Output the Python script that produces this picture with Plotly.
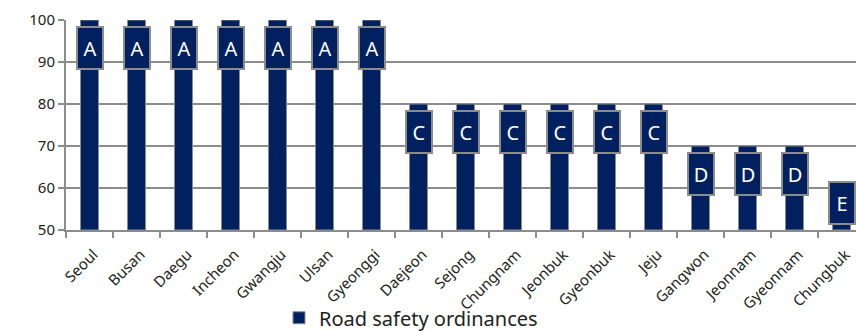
import plotly.graph_objects as go

regions = ["Seoul", "Busan", "Daegu", "Incheon", "Gwangju", "Ulsan", "Gyeonggi",
           "Daejeon", "Sejong", "Chungnam", "Jeonbuk", "Gyeonbuk", "Jeju",
           "Gangwon", "Jeonnam", "Gyeonnam", "Chungbuk"]
scores = [100, 100, 100, 100, 100, 100, 100,
          80, 80, 80, 80, 80, 80,
          70, 70, 70, 61]
grades = ["A", "A", "A", "A", "A", "A", "A",
          "C", "C", "C", "C", "C", "C",
          "D", "D", "D", "E"]

NAVY = "#002060"
GRAY = "#8c8c8c"

W, H = 856, 331
ML, MT, MB = 66, 20, 101
plot_w = W - ML
plot_h = H - MT - MB
ymin, ymax = 50, 100
px_per_unit = plot_h / (ymax - ymin)
cat_px = 47
x_hi = plot_w / cat_px - 0.5

fig = go.Figure()
fig.add_trace(go.Bar(
    x=regions, y=[s - ymin for s in scores], base=ymin,
    marker=dict(color=NAVY, line=dict(color=GRAY, width=1)),
    name="Road safety ordinances", showlegend=True,
    hoverinfo="skip",
))

box_h = 44
box_w = 28
for r, s, g in zip(regions, scores, grades):
    top = s - 6 / px_per_unit
    bottom = top - box_h / px_per_unit
    min_bottom = ymin + 5 / px_per_unit
    if bottom < min_bottom:
        shift = min_bottom - bottom
        top += shift
        bottom += shift
    fig.add_annotation(
        x=r, y=(top + bottom) / 2, xref="x", yref="y",
        text=g, showarrow=False,
        font=dict(family="Noto Sans", size=20, color="white"),
        bgcolor=NAVY, bordercolor=GRAY, borderwidth=2,
        width=box_w - 4, height=box_h - 4, borderpad=0,
        xanchor="center", yanchor="middle",
    )

fig.update_layout(
    width=W, height=H,
    margin=dict(l=ML, r=0, t=MT, b=MB, autoexpand=False),
    paper_bgcolor="white", plot_bgcolor="white",
    bargap=1 - 18 / cat_px,
    font=dict(family="Noto Sans", color="#222"),
    legend=dict(orientation="h", x=(279 - ML) / plot_w, xanchor="left", y=-0.325, yanchor="top",
                font=dict(size=20, color="#222"), itemwidth=30,
                bgcolor="rgba(0,0,0,0)"),
    showlegend=True,
)
fig.update_xaxes(
    range=[-0.5, x_hi], showline=True, linecolor=GRAY, linewidth=2,
    ticks="outside", tickson="boundaries", ticklen=6, tickcolor=GRAY, tickwidth=1.5,
    tickangle=-45, tickfont=dict(size=15, color="#222"), showgrid=False,
    ticklabelstandoff=8, ticklabelshift=4,
    automargin=False,
)
fig.update_yaxes(
    range=[ymin, ymax], dtick=10, showline=True, linecolor=GRAY, linewidth=2,
    ticks="outside", ticklen=6, tickcolor=GRAY, tickwidth=1.5,
    gridcolor=GRAY, gridwidth=1.5, tickfont=dict(size=15, color="#222"),
    zeroline=False, automargin=False,
)

fig.write_html("out.html")
